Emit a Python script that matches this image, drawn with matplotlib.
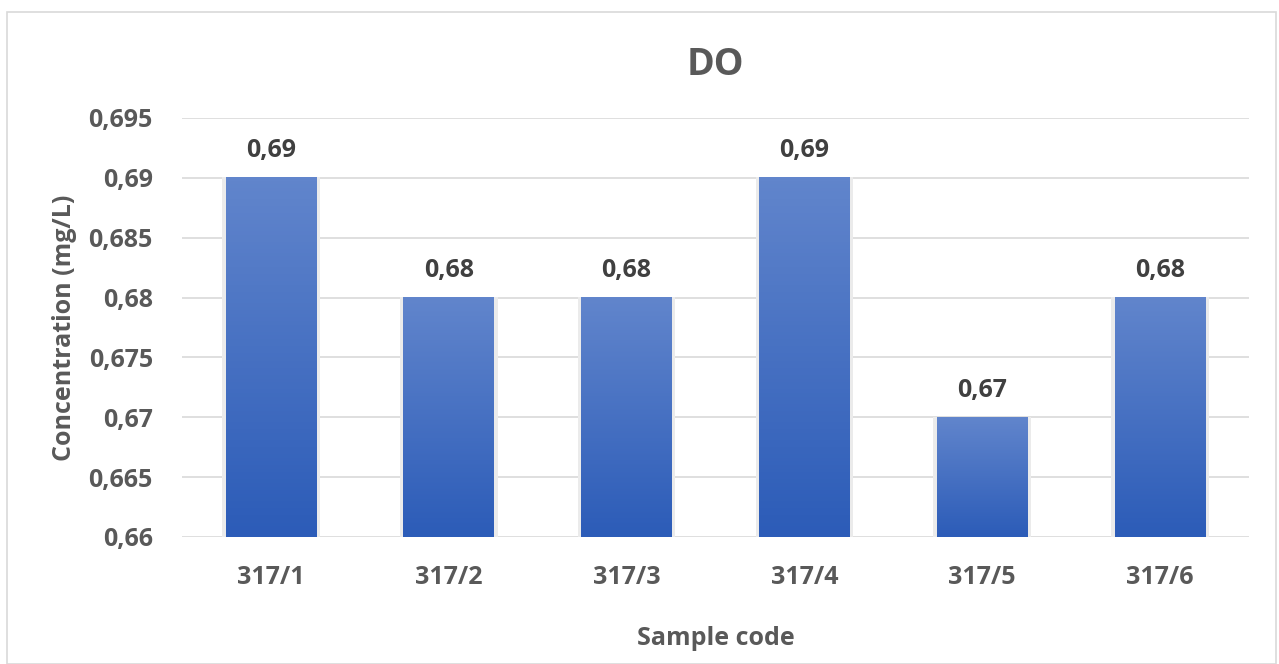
import matplotlib.pyplot as plt
import numpy as np
from matplotlib.colors import LinearSegmentedColormap
from matplotlib.patches import Rectangle

# data
samples = ['317/1', '317/2', '317/3', '317/4', '317/5', '317/6']
do_values = [0.69, 0.68, 0.68, 0.69, 0.67, 0.68]
value_labels = ['0,69', '0,68', '0,68', '0,69', '0,67', '0,68']
yticks = [0.66, 0.665, 0.67, 0.675, 0.68, 0.685, 0.69, 0.695]
ytick_labels = ['0,66', '0,665', '0,67', '0,675', '0,68', '0,685', '0,69', '0,695']

txt = '#595959'
plt.rcParams['font.family'] = ['Open Sans', 'DejaVu Sans']
plt.rcParams['font.weight'] = 'bold'

fig = plt.figure(figsize=(12.79, 6.64), dpi=100)
# outer chart border
fig.patches.append(Rectangle((7/1279, 0), 1269/1279, 652/664, transform=fig.transFigure,
                             fill=False, edgecolor='#d9d9d9', lw=1.2))

ax = fig.add_axes([182/1279, 1-537/664, 1067/1279, 419/664])

grad = LinearSegmentedColormap.from_list('g', ['#2c5cb8', '#6185cc'])
x = np.arange(len(samples))
width = 0.51
bars = ax.bar(x, do_values, width=width, bottom=0, color='none', zorder=3)
for b, lab in zip(bars, value_labels):
    x0, y0 = b.get_x(), 0.66
    x1, y1 = x0 + b.get_width(), b.get_height()
    # soft shadow around the bar
    ax.add_patch(Rectangle((x0-0.02, y0), b.get_width()+0.04, y1-y0+0.00005,
                           color='#ebebeb', zorder=2, lw=0))
    ax.imshow(np.linspace(0, 1, 100).reshape(-1, 1), cmap=grad, aspect='auto',
              extent=(x0, x1, y0, y1), origin='lower', zorder=3)
    ax.text(b.get_x()+b.get_width()/2, y1 + 0.0012, lab, ha='center', va='bottom',
            fontsize=18, color='#404040', fontweight='bold')

ax.set_ylim(0.66, 0.695)
ax.set_xlim(-0.5, 5.5)
ax.set_yticks(yticks)
ax.set_yticklabels(ytick_labels)
ax.set_xticks(x)
ax.set_xticklabels(samples)
ax.tick_params(length=0, labelsize=18, labelcolor=txt, pad=21)
ax.tick_params(axis='x', pad=20)
ax.grid(axis='y', color='#d9d9d9', lw=1.2, zorder=0)
for s in ax.spines.values():
    s.set_visible(False)

ax.set_title('DO', fontsize=27, color=txt, fontweight='bold', pad=31)
ax.set_ylabel('Concentration (mg/L)', fontsize=18, color=txt, fontweight='bold', labelpad=8)
ax.set_xlabel('Sample code', fontsize=18, color=txt, fontweight='bold', labelpad=26)

plt.savefig('out.png', dpi=100)
